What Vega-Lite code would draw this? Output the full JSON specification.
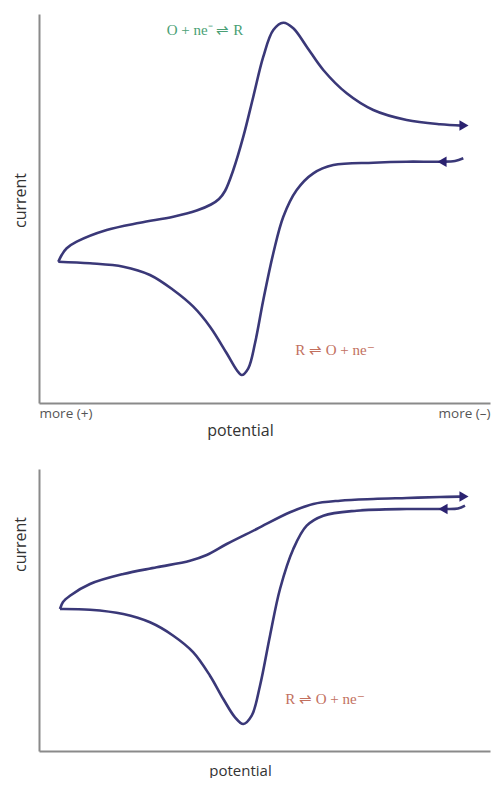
{
  "$schema": "https://vega.github.io/schema/vega-lite/v6.json",
  "padding": {"left": 12, "top": 14, "right": 4, "bottom": 0},
  "autosize": {"type": "pad"},
  "background": "white",
  "spacing": 30,
  "config": {
    "view": {"stroke": null},
    "axis": {
      "domainColor": "#8a8a8a",
      "domainWidth": 2,
      "ticks": false,
      "grid": false,
      "labelFont": "Open Sans",
      "labelFontSize": 13.5,
      "labelColor": "#555555",
      "titleFont": "Open Sans",
      "titleFontSize": 16,
      "titleFontWeight": "normal",
      "titleColor": "#333333"
    }
  },
  "datasets": {
    "top": [
      {"s": "up", "x": 19.3, "y": 141.3},
      {"s": "up", "x": 22.7, "y": 148},
      {"s": "up", "x": 27.7, "y": 154.7},
      {"s": "up", "x": 37.7, "y": 161.3},
      {"s": "up", "x": 67.7, "y": 173},
      {"s": "up", "x": 101, "y": 180.3},
      {"s": "up", "x": 134.3, "y": 186.3},
      {"s": "up", "x": 157.7, "y": 192.5},
      {"s": "up", "x": 172, "y": 198.5},
      {"s": "up", "x": 180, "y": 204},
      {"s": "up", "x": 186, "y": 212},
      {"s": "up", "x": 194.3, "y": 233},
      {"s": "up", "x": 204.3, "y": 266.3},
      {"s": "up", "x": 214.3, "y": 306.3},
      {"s": "up", "x": 224.3, "y": 346.3},
      {"s": "up", "x": 234.3, "y": 373},
      {"s": "up", "x": 244.3, "y": 380.3},
      {"s": "up", "x": 254.3, "y": 374.7},
      {"s": "up", "x": 267.7, "y": 356.3},
      {"s": "up", "x": 284.3, "y": 333},
      {"s": "up", "x": 307.7, "y": 309.7},
      {"s": "up", "x": 334.3, "y": 293},
      {"s": "up", "x": 367.7, "y": 283},
      {"s": "up", "x": 401, "y": 278.7},
      {"s": "up", "x": 423, "y": 277.4},
      {"s": "down", "x": 19.3, "y": 141.3},
      {"s": "down", "x": 51, "y": 139.7},
      {"s": "down", "x": 84.3, "y": 136.3},
      {"s": "down", "x": 111, "y": 128},
      {"s": "down", "x": 134.3, "y": 113},
      {"s": "down", "x": 154.3, "y": 96.3},
      {"s": "down", "x": 171, "y": 76.3},
      {"s": "down", "x": 187.7, "y": 49.7},
      {"s": "down", "x": 197.7, "y": 33},
      {"s": "down", "x": 202.7, "y": 28},
      {"s": "down", "x": 209.3, "y": 34.7},
      {"s": "down", "x": 216, "y": 59.7},
      {"s": "down", "x": 224.3, "y": 103},
      {"s": "down", "x": 234.3, "y": 149.7},
      {"s": "down", "x": 244.3, "y": 186.3},
      {"s": "down", "x": 257.7, "y": 213},
      {"s": "down", "x": 274.3, "y": 229.7},
      {"s": "down", "x": 294.3, "y": 238},
      {"s": "down", "x": 334.3, "y": 240.3},
      {"s": "down", "x": 367.7, "y": 241.3},
      {"s": "down", "x": 401, "y": 241.3},
      {"s": "down", "x": 416, "y": 242},
      {"s": "down", "x": 424.3, "y": 244.7}
    ],
    "topArrows": [
      {"x": 425, "y": 277.5, "shape": "triangle-right"},
      {"x": 403, "y": 241.2, "shape": "triangle-left"}
    ],
    "topLabels": [
      {"x": 166, "y": 373, "t": "O + ne⁻ ⇌ R", "c": "green"},
      {"x": 296, "y": 53, "t": "R ⇌ O + ne⁻", "c": "red"}
    ],
    "bottom": [
      {"s": "up", "x": 18, "y": 142},
      {"s": "up", "x": 21, "y": 149},
      {"s": "up", "x": 28, "y": 155.3},
      {"s": "up", "x": 48, "y": 167},
      {"s": "up", "x": 81.3, "y": 177},
      {"s": "up", "x": 114.7, "y": 183.7},
      {"s": "up", "x": 148, "y": 190.3},
      {"s": "up", "x": 164.7, "y": 196},
      {"s": "up", "x": 184.7, "y": 207},
      {"s": "up", "x": 214.7, "y": 222},
      {"s": "up", "x": 248, "y": 238.7},
      {"s": "up", "x": 271.3, "y": 247},
      {"s": "up", "x": 298, "y": 250.3},
      {"s": "up", "x": 331.3, "y": 252},
      {"s": "up", "x": 364.7, "y": 253},
      {"s": "up", "x": 398, "y": 254},
      {"s": "up", "x": 418, "y": 254.4},
      {"s": "down", "x": 18, "y": 142},
      {"s": "down", "x": 48, "y": 141.3},
      {"s": "down", "x": 81.3, "y": 137},
      {"s": "down", "x": 108, "y": 128.7},
      {"s": "down", "x": 131.3, "y": 115.3},
      {"s": "down", "x": 151.3, "y": 98.7},
      {"s": "down", "x": 168, "y": 75.3},
      {"s": "down", "x": 181.3, "y": 52},
      {"s": "down", "x": 193, "y": 33.7},
      {"s": "down", "x": 201.3, "y": 27},
      {"s": "down", "x": 209.7, "y": 35.3},
      {"s": "down", "x": 218, "y": 65.3},
      {"s": "down", "x": 228, "y": 115.3},
      {"s": "down", "x": 238, "y": 162},
      {"s": "down", "x": 251.3, "y": 202},
      {"s": "down", "x": 264.7, "y": 225.3},
      {"s": "down", "x": 281.3, "y": 235.3},
      {"s": "down", "x": 314.7, "y": 240.3},
      {"s": "down", "x": 364.7, "y": 242},
      {"s": "down", "x": 401.3, "y": 242},
      {"s": "down", "x": 416, "y": 242.5},
      {"s": "down", "x": 423, "y": 245.3}
    ],
    "bottomArrows": [
      {"x": 422, "y": 254.5, "shape": "triangle-right"},
      {"x": 401, "y": 242, "shape": "triangle-left"}
    ],
    "bottomLabels": [
      {"x": 283, "y": 52, "t": "R ⇌ O + ne⁻", "c": "red"}
    ]
  },
  "vconcat": [
    {
      "width": 451,
      "height": 389,
      "layer": [
        {
          "data": {"name": "top"},
          "mark": {"type": "line", "interpolate": "catmull-rom", "color": "#3a3878", "strokeWidth": 2.6},
          "encoding": {
            "x": {
              "field": "x", "type": "quantitative",
              "scale": {"domain": [0, 451], "nice": false, "zero": false},
              "axis": {
                "title": "potential",
                "titleX": 201,
                "titlePadding": 3,
                "values": [0, 451],
                "labelExpr": "datum.value == 0 ? 'more (+)' : 'more (–)'",
                "labelFlush": true,
                "labelOverlap": false,
                "labelPadding": 3
              }
            },
            "y": {
              "field": "y", "type": "quantitative",
              "scale": {"domain": [0, 389], "nice": false, "zero": false},
              "axis": {"title": "current", "titleY": 186, "titlePadding": 11, "labels": false}
            },
            "detail": {"field": "s"}
          }
        },
        {
          "data": {"name": "topArrows"},
          "mark": {"type": "point", "filled": true, "color": "#2b2270", "opacity": 1, "size": 110},
          "encoding": {
            "x": {"field": "x", "type": "quantitative"},
            "y": {"field": "y", "type": "quantitative"},
            "shape": {"field": "shape", "type": "nominal", "scale": null}
          }
        },
        {
          "data": {"name": "topLabels"},
          "mark": {"type": "text", "font": "Liberation Serif", "fontSize": 15},
          "encoding": {
            "x": {"field": "x", "type": "quantitative"},
            "y": {"field": "y", "type": "quantitative"},
            "text": {"field": "t"},
            "color": {"field": "c", "type": "nominal", "scale": {"domain": ["green", "red"], "range": ["#4a9f74", "#c2705e"]}, "legend": null}
          }
        }
      ]
    },
    {
      "width": 451,
      "height": 282,
      "layer": [
        {
          "data": {"name": "bottom"},
          "mark": {"type": "line", "interpolate": "catmull-rom", "color": "#3a3878", "strokeWidth": 2.6},
          "encoding": {
            "x": {
              "field": "x", "type": "quantitative",
              "scale": {"domain": [-3, 448], "nice": false, "zero": false},
              "axis": {"title": "potential", "titleX": 201, "titlePadding": 12, "titleFontSize": 15, "labels": false}
            },
            "y": {
              "field": "y", "type": "quantitative",
              "scale": {"domain": [0, 282], "nice": false, "zero": false},
              "axis": {"title": "current", "titleY": 75, "titlePadding": 11, "labels": false}
            },
            "detail": {"field": "s"}
          }
        },
        {
          "data": {"name": "bottomArrows"},
          "mark": {"type": "point", "filled": true, "color": "#2b2270", "opacity": 1, "size": 110},
          "encoding": {
            "x": {"field": "x", "type": "quantitative"},
            "y": {"field": "y", "type": "quantitative"},
            "shape": {"field": "shape", "type": "nominal", "scale": null}
          }
        },
        {
          "data": {"name": "bottomLabels"},
          "mark": {"type": "text", "font": "Liberation Serif", "fontSize": 15, "color": "#c2705e"},
          "encoding": {
            "x": {"field": "x", "type": "quantitative"},
            "y": {"field": "y", "type": "quantitative"},
            "text": {"field": "t"}
          }
        }
      ]
    }
  ]
}
